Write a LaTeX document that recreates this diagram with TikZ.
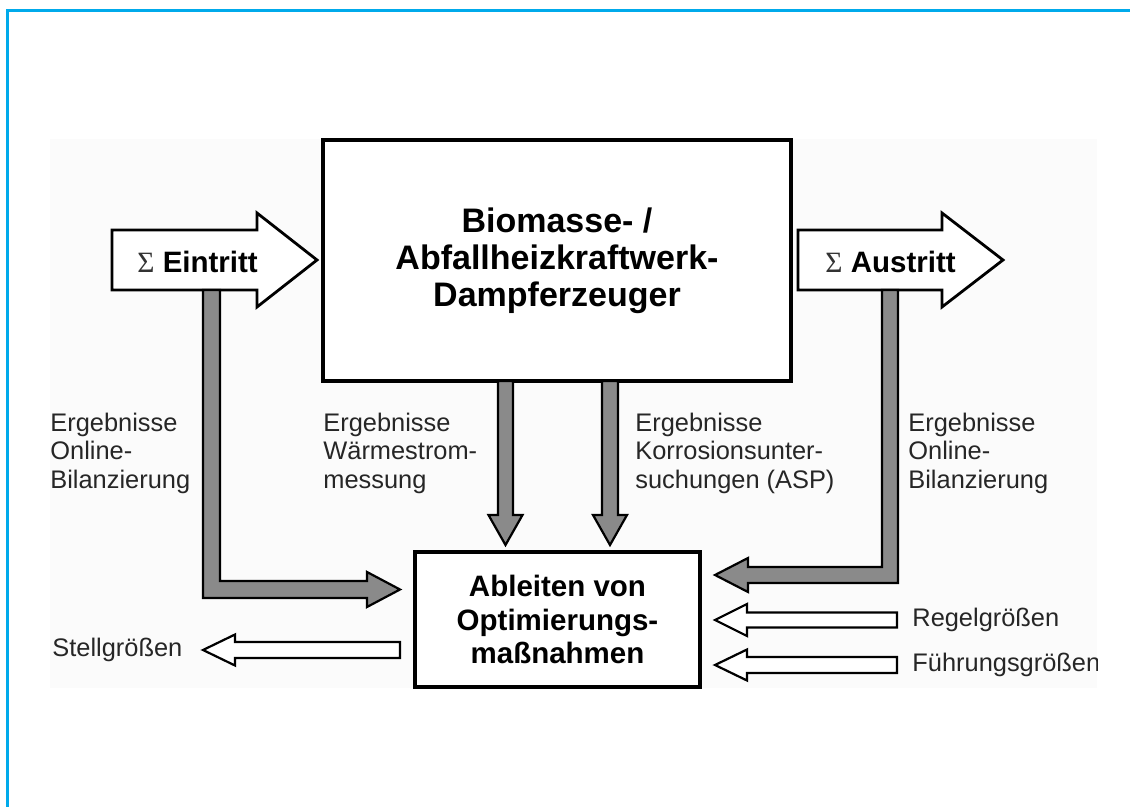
\documentclass[tikz,border=0pt]{standalone}
\usepackage{fontspec}
\setmainfont{Liberation Sans}
\newfontfamily\sigmafont{Liberation Serif}
\definecolor{frameblue}{RGB}{0,170,235}
\definecolor{arrowgray}{RGB}{138,138,138}
\definecolor{bgfaint}{RGB}{251,251,251}
% horizontal block arrow: style, tail x, head base x, tip x, centre y, half shaft, half head
\newcommand{\hblockarrow}[7]{%
  \draw[#1] (#2,#5-#6) -- (#3,#5-#6) -- (#3,#5-#7) -- (#4,#5) -- (#3,#5+#7) -- (#3,#5+#6) -- (#2,#5+#6) -- cycle;}
% vertical block arrow: style, tail y, head base y, tip y, centre x, half shaft, half head
\newcommand{\vblockarrow}[7]{%
  \draw[#1] (#5-#6,#2) -- (#5-#6,#3) -- (#5-#7,#3) -- (#5,#4) -- (#5+#7,#3) -- (#5+#6,#3) -- (#5+#6,#2) -- cycle;}
\begin{document}
\begin{tikzpicture}[x=0.5pt,y=-0.5pt,line join=miter,
  mainbox/.style={draw,line width=1.6pt,fill=white,minimum width=234pt,minimum height=120.5pt,
    align=center,inner sep=0pt,font=\fontsize{17}{18.5}\selectfont\bfseries},
  lowbox/.style={draw,line width=1.6pt,fill=white,minimum width=142.5pt,minimum height=67.5pt,
    align=center,inner sep=0pt,font=\fontsize{14.75}{16.6}\selectfont\bfseries},
  bigtxt/.style={anchor=west,inner sep=0pt,font=\fontsize{14.75}{16.6}\selectfont\bfseries},
  lbl/.style={anchor=west,align=left,inner sep=0pt,text=black!85,font=\fontsize{12.7}{14.25}\selectfont},
  bigarrow/.style={draw,line width=1.4pt,fill=white},
  grayarrow/.style={draw,line width=1.1pt,fill=arrowgray},
  whitearrow/.style={draw,line width=1.1pt,fill=white}]
\useasboundingbox (0,0) rectangle (1130,807);
% faint background of the figure
\fill[bgfaint] (50,139) rectangle (1097,688);
% blue frame lines
\draw[frameblue,line width=1.3pt] (6,10.5) -- (1130,10.5);
\draw[frameblue,line width=1.3pt] (7.5,9.5) -- (7.5,807);
% main box
\node[mainbox] (main) at (557,260.5) {Biomasse- /\\Abfallheizkraftwerk-\\Dampferzeuger};
% lower box
\node[lowbox] (opt) at (557.5,619.5) {Ableiten von\\Optimierungs-\\maßnahmen};
% input / output arrows
\hblockarrow{bigarrow}{112}{257}{317}{260}{30}{47}
\hblockarrow{bigarrow}{798}{942}{1003}{260}{30}{47}
\node[bigtxt] (ein) at (137,262) {{\sigmafont\mdseries\color{black!80}Σ} Eintritt};
\node[bigtxt] (aus) at (825,262) {{\sigmafont\mdseries\color{black!80}Σ} Austritt};
% gray result arrows
\draw[grayarrow] (203,290) -- (220,290) -- (220,581) -- (367,581) -- (367,572) -- (400,589.5)
  -- (367,607) -- (367,598) -- (203,598) -- cycle;
\draw[grayarrow] (882,290) -- (898,290) -- (898,583) -- (748,583) -- (748,592) -- (715,575)
  -- (748,558) -- (748,567) -- (882,567) -- cycle;
\vblockarrow{grayarrow}{381}{515}{545}{505.5}{7.5}{17}
\vblockarrow{grayarrow}{381}{515}{545}{610}{8}{17}
% small white arrows
\hblockarrow{whitearrow}{400}{235}{203}{650}{8}{15.5}
\hblockarrow{whitearrow}{897}{747}{715}{620}{7.5}{16}
\hblockarrow{whitearrow}{897}{747}{715}{665}{8}{15.5}
% labels
\node[lbl] (l1) at (50,453) {Ergebnisse\\Online-\\Bilanzierung};
\node[lbl] (l2) at (323,453) {Ergebnisse\\Wärmestrom-\\messung};
\node[lbl] (l3) at (635,453) {Ergebnisse\\Korrosionsunter-\\suchungen (ASP)};
\node[lbl] (l4) at (908,453) {Ergebnisse\\Online-\\Bilanzierung};
\node[lbl] (stell) at (52,650) {Stellgrößen};
\node[lbl] (regel) at (912,620) {Regelgrößen};
\begin{scope}
\clip (50,139) rectangle (1097,688);
\node[lbl] (fuehr) at (912,665) {Führungsgrößen};
\end{scope}
\end{tikzpicture}
\end{document}
